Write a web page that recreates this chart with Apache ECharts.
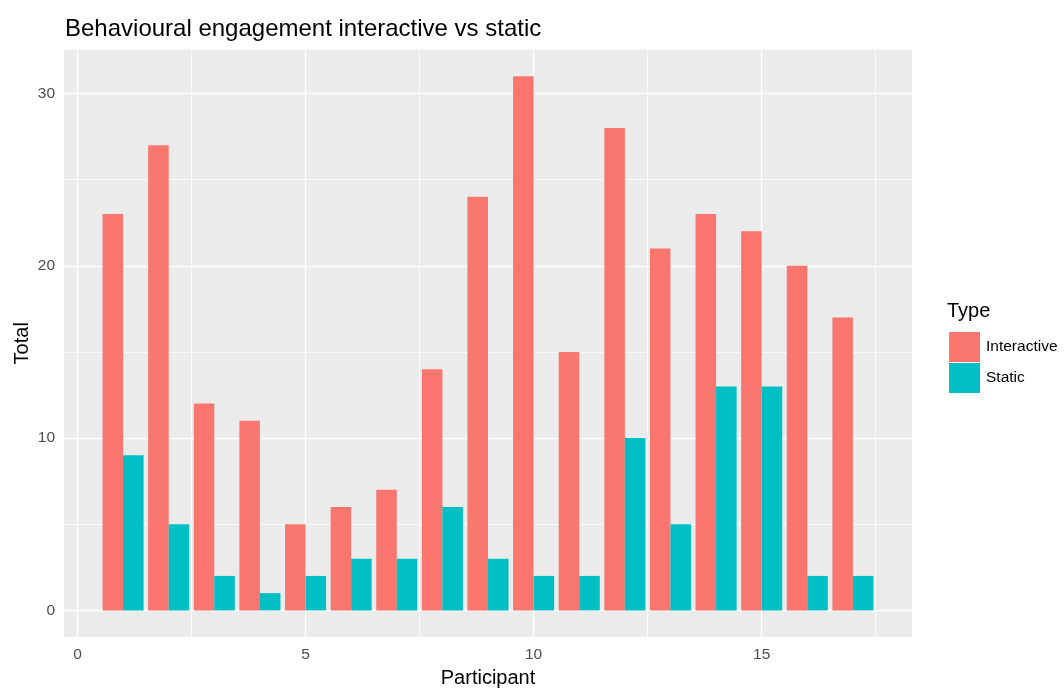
<!DOCTYPE html>
<html>
<head>
<meta charset="utf-8">
<script src="https://cdn.jsdelivr.net/npm/echarts@6/dist/echarts.min.js"></script>
<style>html,body{margin:0;padding:0;background:#fff;}#c{width:1064px;height:693px;}</style>
</head>
<body>
<div id="c"></div>
<script>
var participants = [1,2,3,4,5,6,7,8,9,10,11,12,13,14,15,16,17];
var interactive = [23,27,12,11,5,6,7,14,24,31,15,28,21,23,22,20,17];
var staticVals  = [9,5,2,1,2,3,3,6,3,2,2,10,5,13,13,2,2];
var xTicks = [0,5,10,15];
var xMinor = [2.5,7.5,12.5,17.5];
var yTicks = [0,10,20,30];
var yMinor = [5,15,25];

var FONT = '"Liberation Sans", Arial, sans-serif';
var chart = echarts.init(document.getElementById('c'), null, {renderer:'canvas'});

function barRenderer(side) {
  return function(params, api) {
    var x = api.value(0), y = api.value(1);
    var x0 = side === 0 ? x - 0.45 : x;
    var x1 = side === 0 ? x : x + 0.45;
    var p0 = api.coord([x0, y]);
    var p1 = api.coord([x1, 0]);
    return {
      type: 'rect',
      shape: {x: p0[0], y: p0[1], width: p1[0] - p0[0], height: p1[1] - p0[1]},
      style: {fill: api.visual('color')}
    };
  };
}

var gridLines = [];
xTicks.forEach(function(v){ gridLines.push({xAxis: v, lineStyle:{color:'#fff', width:1.4, type:'solid'}}); });
xMinor.forEach(function(v){ gridLines.push({xAxis: v, lineStyle:{color:'#fff', width:0.8, type:'solid'}}); });
yTicks.forEach(function(v){ gridLines.push({yAxis: v, lineStyle:{color:'#fff', width:1.4, type:'solid'}}); });
yMinor.forEach(function(v){ gridLines.push({yAxis: v, lineStyle:{color:'#fff', width:0.8, type:'solid'}}); });

chart.setOption({
  animation: false,
  backgroundColor: '#ffffff',
  textStyle: {fontFamily: FONT},
  title: [
    {text: 'Behavioural engagement interactive vs static', left: 60, top: 12,
     textStyle: {fontFamily: FONT, fontSize: 24, fontWeight: 'normal', color: '#000'}},
    {text: 'Type', left: 942, top: 296,
     textStyle: {fontFamily: FONT, fontSize: 20, fontWeight: 'normal', color: '#000'}}
  ],
  legend: {
    orient: 'vertical', left: 944, top: 327,
    itemWidth: 31, itemHeight: 30, itemGap: 1,
    icon: 'rect',
    data: ['Interactive', 'Static'],
    textStyle: {fontFamily: FONT, fontSize: 15.5, color: '#000', padding: [0,0,0,1]}
  },
  grid: {left: 64, right: 152, top: 49.5, bottom: 54.5, show: true,
         backgroundColor: '#EBEBEB', borderWidth: 0},
  xAxis: {
    type: 'value', min: -0.295, max: 18.295,
    name: 'Participant', nameLocation: 'middle', nameGap: 30,
    nameTextStyle: {fontFamily: FONT, fontSize: 20, color: '#000'},
    axisLine: {show: false},
    axisTick: {show: true, length: 4, lineStyle: {color: '#333', width: 1}, customValues: xTicks},
    axisLabel: {customValues: xTicks, fontFamily: FONT, fontSize: 15.5, color: '#4D4D4D', margin: 10},
    splitLine: {show: false}
  },
  yAxis: {
    type: 'value', min: -1.55, max: 32.55,
    name: 'Total', nameLocation: 'middle', nameGap: 32, nameRotate: 90, nameMoveOverlap: false,
    nameTextStyle: {fontFamily: FONT, fontSize: 20, color: '#000'},
    axisLine: {show: false},
    axisTick: {show: true, length: 4, lineStyle: {color: '#333', width: 1}, customValues: yTicks},
    axisLabel: {customValues: yTicks, fontFamily: FONT, fontSize: 15.5, color: '#4D4D4D', margin: 9},
    splitLine: {show: false}
  },
  series: [
    {
      type: 'scatter', name: '_grid', data: [[0,0]], symbolSize: 0, silent: true, z: 1,
      markLine: {silent: true, z: 1, symbol: ['none','none'], label: {show: false}, data: gridLines,
                 emphasis: {disabled: true}, animation: false}
    },
    {
      type: 'custom', name: 'Interactive', color: '#F8766D', z: 10,
      renderItem: barRenderer(0),
      encode: {x: 0, y: 1},
      data: participants.map(function(p, i){ return [p, interactive[i]]; })
    },
    {
      type: 'custom', name: 'Static', color: '#00BFC4', z: 10,
      renderItem: barRenderer(1),
      encode: {x: 0, y: 1},
      data: participants.map(function(p, i){ return [p, staticVals[i]]; })
    }
  ]
});
</script>
</body>
</html>
